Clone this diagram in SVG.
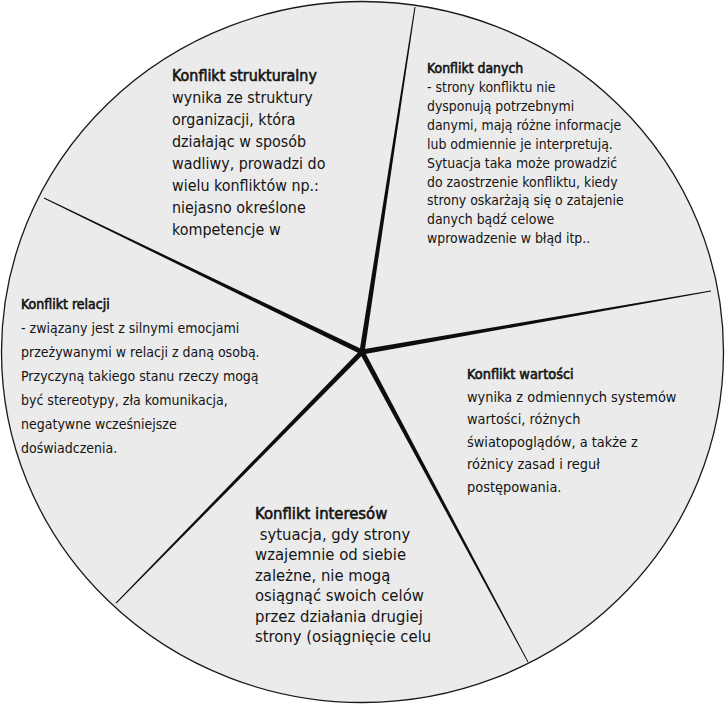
<svg xmlns="http://www.w3.org/2000/svg" width="726" height="704" viewBox="0 0 726 704">
  <style>
    .disc { fill: #ebebeb; stroke: #1a1a1a; stroke-width: 1.3; }
    .spoke { fill: #0d0d0d; stroke: none; }
    text { font-family: "DejaVu Sans Condensed", "DejaVu Sans", sans-serif; fill: #141414; white-space: pre; }
    /* headings: regular glyph widths, emboldened with a thin outline */
    .h { stroke: #141414; stroke-width: 0.6; stroke-linejoin: round; }
  </style>

  <!-- outer disc -->
  <ellipse class="disc" cx="362.5" cy="352" rx="361" ry="350.5"/>

  <!-- tapered spokes from the hub to the rim -->
  <g id="connectors">
    <polygon class="spoke" points="364.5,352.4 415.5,7.1 414.5,6.9 359.5,351.6"/>
    <polygon class="spoke" points="362.4,354.5 711.1,291.5 710.9,290.5 361.6,349.5"/>
    <polygon class="spoke" points="359.8,353.2 527.6,662.2 528.4,661.8 364.2,350.8"/>
    <polygon class="spoke" points="360.2,350.3 115.6,602.7 116.4,603.4 363.8,353.8"/>
    <polygon class="spoke" points="363.1,349.8 44.2,197.6 43.8,198.5 360.9,354.3"/>
  </g>

  <g id="konflikt-strukturalny">
    <text font-size="15.9">
      <tspan class="h" x="172" y="81">Konflikt strukturalny</tspan>
      <tspan x="172" y="103">wynika ze struktury</tspan>
      <tspan x="172" y="125">organizacji, która</tspan>
      <tspan x="172" y="147">działając w sposób</tspan>
      <tspan x="172" y="169">wadliwy, prowadzi do</tspan>
      <tspan x="172" y="191">wielu konfliktów np.:</tspan>
      <tspan x="172" y="213">niejasno określone</tspan>
      <tspan x="172" y="235">kompetencje w</tspan>
    </text>
  </g>

  <g id="konflikt-danych">
    <text font-size="13.9">
      <tspan class="h" x="427" y="73">Konflikt danych</tspan>
      <tspan x="427" y="92">- strony konfliktu nie</tspan>
      <tspan x="427" y="111">dysponują potrzebnymi</tspan>
      <tspan x="427" y="130">danymi, mają różne informacje</tspan>
      <tspan x="427" y="149">lub odmiennie je interpretują.</tspan>
      <tspan x="427" y="168">Sytuacja taka może prowadzić</tspan>
      <tspan x="427" y="187">do zaostrzenie konfliktu, kiedy</tspan>
      <tspan x="427" y="205">strony oskarżają się o zatajenie</tspan>
      <tspan x="427" y="224">danych bądź celowe</tspan>
      <tspan x="427" y="243">wprowadzenie w błąd itp..</tspan>
    </text>
  </g>

  <g id="konflikt-relacji">
    <text font-size="14">
      <tspan class="h" x="21" y="309">Konflikt relacji</tspan>
      <tspan x="21" y="333">- związany jest z silnymi emocjami</tspan>
      <tspan x="21" y="357">przeżywanymi w relacji z daną osobą.</tspan>
      <tspan x="21" y="381">Przyczyną takiego stanu rzeczy mogą</tspan>
      <tspan x="21" y="405">być stereotypy, zła komunikacja,</tspan>
      <tspan x="21" y="429">negatywne wcześniejsze</tspan>
      <tspan x="21" y="453">doświadczenia.</tspan>
    </text>
  </g>

  <g id="konflikt-wartosci">
    <text font-size="14.4">
      <tspan class="h" x="467" y="379">Konflikt wartości</tspan>
      <tspan x="467" y="402">wynika z odmiennych systemów</tspan>
      <tspan x="467" y="424">wartości, różnych</tspan>
      <tspan x="467" y="447">światopoglądów, a także z</tspan>
      <tspan x="467" y="469">różnicy zasad i reguł</tspan>
      <tspan x="467" y="492">postępowania.</tspan>
    </text>
  </g>

  <g id="konflikt-interesow">
    <text font-size="16.5">
      <tspan class="h" x="255" y="519">Konflikt interesów</tspan>
      <tspan x="255" y="540"> sytuacja, gdy strony</tspan>
      <tspan x="255" y="560">wzajemnie od siebie</tspan>
      <tspan x="255" y="581">zależne, nie mogą</tspan>
      <tspan x="255" y="601">osiągnąć swoich celów</tspan>
      <tspan x="255" y="622">przez działania drugiej</tspan>
      <tspan x="255" y="642">strony (osiągnięcie celu</tspan>
    </text>
  </g>
</svg>
